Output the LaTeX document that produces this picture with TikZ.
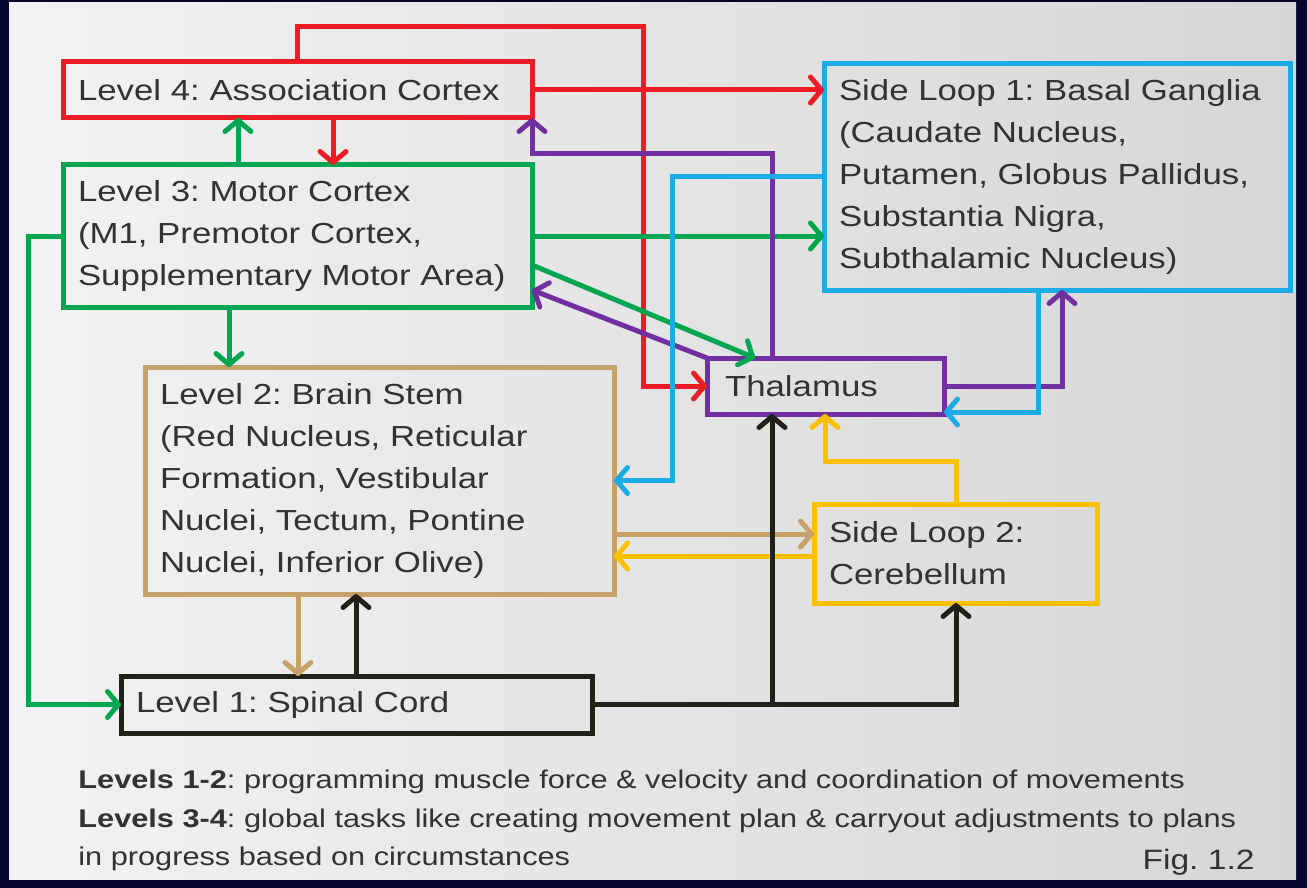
\documentclass[tikz,border=0pt]{standalone}
\usepackage{fontspec}
\setmainfont[FakeStretch=1.2]{Liberation Sans}
\frenchspacing
\usetikzlibrary{arrows.meta,calc}
\definecolor{framenavy}{RGB}{6,6,46}
\definecolor{lvred}{RGB}{236,28,36}
\definecolor{lvgreen}{RGB}{0,166,81}
\definecolor{lvblue}{RGB}{27,172,230}
\definecolor{lvpurple}{RGB}{112,48,160}
\definecolor{lvtan}{RGB}{198,162,104}
\definecolor{lvyellow}{RGB}{252,192,0}
\definecolor{lvblack}{RGB}{34,32,26}
\definecolor{txtgray}{RGB}{50,50,50}
\tikzset{
  lvbox/.style 2 args={draw, line width=2.5pt, anchor=north west, outer sep=0pt,
    inner xsep=7.5pt, text width=#1, minimum height=#2, align=left,
    text=txtgray, font=\fontsize{14.5}{21}\selectfont},
  link/.style={line width=2.5pt, -{Straight Barb[length=5.5pt,width=13pt,round]}}
}

\begin{document}
\begin{tikzpicture}[x=0.5pt,y=-0.5pt]
  % frame and panel
  \fill[framenavy] (0,0) rectangle (1307,888);
  \shade[left color=white!95!black, right color=white!84!black] (9,3) rectangle (1296,879);

  % levels and loops
  \node[lvbox={219.5pt}{28pt}, draw=lvred] (lfour) at (63,62) {Level 4: Association Cortex};
  \node[lvbox={219.5pt}{71pt}, draw=lvgreen] (lthree) at (63,165)
    {Level 3: Motor Cortex\\(M1, Premotor Cortex,\\Supplementary Motor Area)};
  \node[lvbox={219.5pt}{113.5pt}, draw=lvtan] (ltwo) at (145,367)
    {Level 2: Brain Stem\\(Red Nucleus, Reticular\\Formation, Vestibular\\Nuclei, Tectum, Pontine\\Nuclei, Inferior Olive)};
  \node[lvbox={220.5pt}{28.5pt}, draw=lvblack] (lone) at (121,676) {Level 1: Spinal Cord};
  \node[lvbox={218pt}{113pt}, draw=lvblue] (slone) at (824,64)
    {Side Loop 1: Basal Ganglia\\(Caudate Nucleus,\\Putamen, Globus Pallidus,\\Substantia Nigra,\\Subthalamic Nucleus)};
  \node[lvbox={100.5pt}{28pt}, draw=lvpurple, inner xsep=9pt] (thal) at (707,358) {Thalamus};
  \node[lvbox={126.5pt}{49.5pt}, draw=lvyellow] (sltwo) at (814,504) {Side Loop 2:\\Cerebellum};

  % red
  \draw[link, lvred] ([xshift=117pt]lfour.north west) -- ++(0,-35) -- ++(346,0) |- (thal.west);
  \draw[link, lvred] (lfour.east) -- (lfour.east -| slone.west);
  \draw[link, lvred] ([xshift=135pt]lfour.south west) -- ([xshift=135pt]lthree.north west);
  % green
  \draw[link, lvgreen] ([xshift=87.5pt]lthree.north west) -- ([xshift=87.5pt]lfour.south west);
  \draw[link, lvgreen] (lthree.west) -- ++(-35,0) |- (lone.west);
  \draw[link, lvgreen] (lthree.east) -- (lthree.east -| slone.west);
  \draw[link, lvgreen] ([yshift=-14.5pt]lthree.east) -- ([xshift=24pt]thal.north west);
  \draw[link, lvgreen] ([xshift=83pt]lthree.south west) -- ([xshift=42pt]ltwo.north west);
  % purple
  \draw[link, lvpurple] (thal.north west) -- ([yshift=-27pt]lthree.east);
  \draw[link, lvpurple] ([xshift=32.5pt]thal.north west) |- ([yshift=-18pt]lfour.south east) -- (lfour.south east);
  \draw[link, lvpurple] (thal.east) -| ([xshift=119pt]slone.south west);
  % blue
  \draw[link, lvblue] (slone.west) -- ++(-152,0) |- (ltwo.east);
  \draw[link, lvblue] ([xshift=107pt]slone.south west) |- ([yshift=-13pt]thal.east);
  % tan
  \draw[link, lvtan] ([xshift=76.5pt]ltwo.south west) -- ([xshift=88.5pt]lone.north west);
  \draw[link, lvtan] ([yshift=-26.75pt]ltwo.east) -- ([yshift=9.75pt]sltwo.west);
  % yellow
  \draw[link, lvyellow] ([yshift=-1.25pt]sltwo.west) -- ([yshift=-37.75pt]ltwo.east);
  \draw[link, lvyellow] ([xshift=71pt]sltwo.north west) -- ++(0,-43) -| ([xshift=59pt]thal.south west);
  % black
  \draw[link, lvblack] ([xshift=117.5pt]lone.north west) -- ([xshift=105.5pt]ltwo.south west);
  \draw[link, lvblack] (lone.east) -| ([xshift=71pt]sltwo.south west);
  \path ([xshift=32.5pt]thal.south west) coordinate (thb);
  \draw[link, lvblack] (lone.east -| thb) -- (thb);

  % notes
  \node[anchor=north west, inner sep=0pt, align=left, text=txtgray,
    font=\fontsize{12.8}{19.25}\selectfont] (notes) at (78,770)
    {\textbf{Levels 1-2}: programming muscle force \& velocity and coordination of movements\\
     \textbf{Levels 3-4}: global tasks like creating movement plan \& carryout adjustments to plans\\
     in progress based on circumstances};
  \node[anchor=base east, inner sep=0pt, text=txtgray, font=\fontsize{14}{16}\selectfont] (fig) at (1255,869) {Fig. 1.2};
\end{tikzpicture}
\end{document}
